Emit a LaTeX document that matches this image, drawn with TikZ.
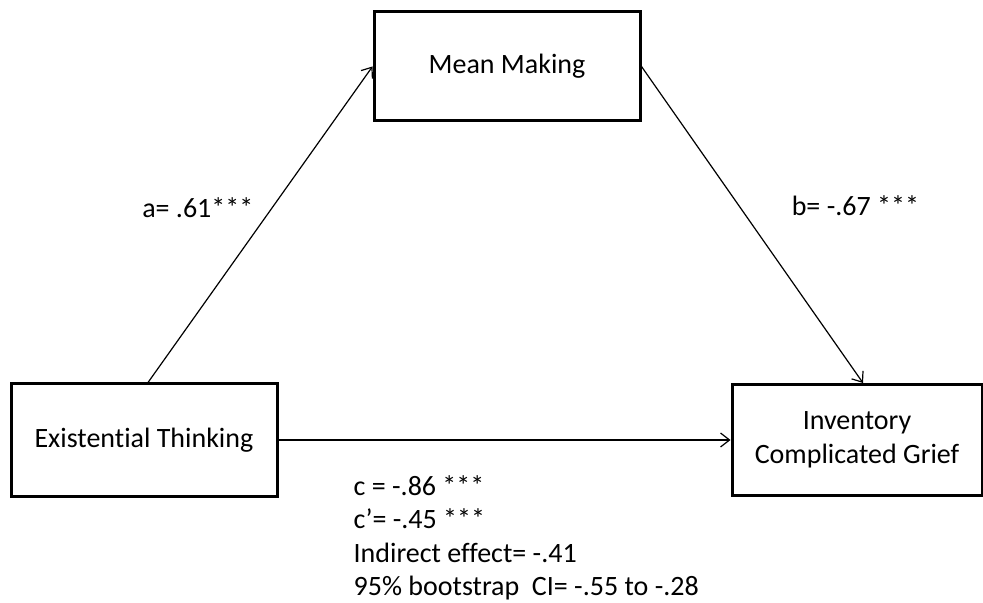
\documentclass[tikz,border=0pt]{standalone}
\usepackage{fontspec}
\setmainfont[Ligatures=NoCommon]{Carlito}
\usetikzlibrary{positioning, arrows.meta}

\begin{document}
\begin{tikzpicture}[x=0.5pt, y=-0.5pt, on grid, font=\fontsize{14pt}{16.75pt}\selectfont,
    box/.style={draw, line width=1.5pt, minimum width=133pt, minimum height=56pt, align=center, inner sep=0pt},
    lbl/.style={inner sep=0pt, align=left}]
   \useasboundingbox (0,0) rectangle (983,603);
   \node[box] (ext) at (144,440) {Existential Thinking};
   \node[box, minimum height=54.5pt] (mean) [above right=186.75pt and 181.5pt of ext] {Mean Making};
   \node[box, minimum width=125pt, minimum height=55.5pt] (icg) [right=356.5pt of ext] {Inventory\\Complicated Grief};
   \path[-{Straight Barb[length=4.5pt, width=7pt]}, line width=0.6pt]
    ([xshift=2pt]ext.north) edge node[lbl, left=9.25pt, pos=.554] {a= .61***} (mean.west)
    (mean.east) edge node[lbl, right=26pt, pos=.441] {b= -.67 ***} ([xshift=3pt]icg.north)
    (ext.east) edge node[lbl, anchor=north west, pos=.165, yshift=-17.5pt]
      {c = -.86 ***\\c’= -.45 ***\\Indirect effect= -.41\\95\% bootstrap\ \ CI= -.55 to -.28} (icg.west)
    ;
\end{tikzpicture}
\end{document}
